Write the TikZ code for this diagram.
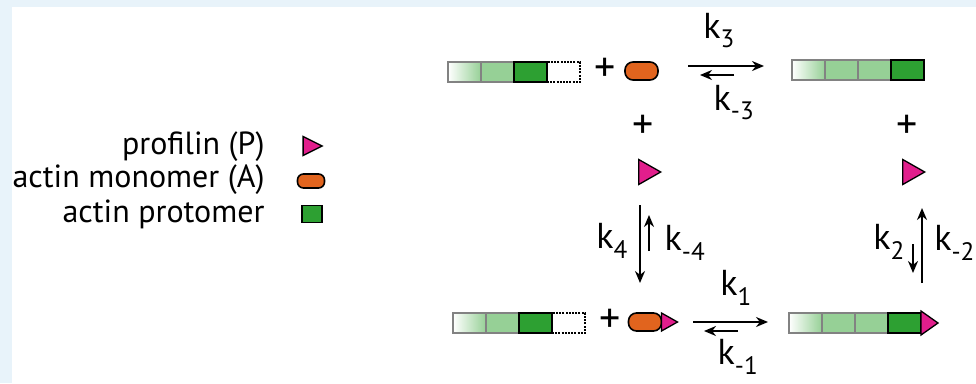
\documentclass[tikz,border=0pt]{standalone}
\usepackage{fontspec}
\setmainfont{PT Sans}
\usetikzlibrary{positioning, shapes.geometric, arrows.meta}

\definecolor{paleblue}{RGB}{232,243,250}
\definecolor{lightgreen}{RGB}{150,208,150}
\definecolor{darkgreen}{RGB}{45,160,50}
\definecolor{actinorange}{RGB}{225,100,30}
\definecolor{profpink}{RGB}{225,30,140}
\definecolor{bordergray}{RGB}{130,130,130}

\tikzset{
  unit/.style={rectangle, minimum width=33pt, minimum height=20pt, inner sep=0pt, outer sep=0pt, line width=1.6pt},
  endunit/.style={unit, draw=bordergray, left color=white, right color=lightgreen},
  oldunit/.style={unit, draw=bordergray, fill=lightgreen},
  newunit/.style={unit, draw=black, fill=darkgreen},
  gapunit/.style={unit, draw=black, dash pattern=on 2pt off 1.2pt, fill=white},
  monomer/.style={rectangle, rounded corners=8pt, minimum width=33pt, minimum height=18pt, inner sep=0pt, outer sep=0pt, draw=black, fill=actinorange, line width=1.6pt},
  profilin/.style={isosceles triangle, isosceles triangle stretches, minimum width=25pt, minimum height=22pt, inner sep=0pt, outer sep=0pt, draw=black, fill=profpink, line width=1.3pt},
  rate/.style={font=\fontsize{36}{40}\selectfont},
  plus/.style={font=\fontsize{42}{46}\selectfont},
  label/.style={font=\fontsize{32}{36}\selectfont, anchor=east},
  fwd/.style={-{Stealth[length=12pt,width=10pt]}, line width=1.9pt},
}

\begin{document}
\begin{tikzpicture}[x=1pt, y=-1pt]
\fill[paleblue] (0,0) rectangle (976,383);
\fill[white] (12,7) rectangle (976,383);
\useasboundingbox (0,0) rectangle (976,383);

% legend
\node (legP)[label] at (268,147) {profilin (P)};
\node (legA)[label] at (268,180) {actin monomer (A)};
\node (legF)[label] at (268,214) {actin protomer};
\node (iconP)[profilin, minimum width=19pt, minimum height=19pt] at (309,146) {};
\node (iconA)[monomer, minimum width=27pt, minimum height=14pt, rounded corners=6pt] at (311,181) {};
\node (iconF)[newunit, minimum width=20pt, minimum height=17pt] at (312,214) {};

% top left: filament + monomer
\node (tl1)[endunit] at (464.5,72) {};
\node (tl2)[oldunit, right=0pt of tl1] {};
\node (tl4)[gapunit, right=33pt of tl2] {};
\node (tl3)[newunit, right=0pt of tl2] {};
\node (plusA)[plus] at (605,70) {+};
\node (monA)[monomer] at (641.5,71) {};

% top right: filament
\node (tr1)[endunit] at (808.5,70) {};
\node (tr2)[oldunit, right=0pt of tr1] {};
\node (tr3)[oldunit, right=0pt of tr2] {};
\node (tr4)[newunit, right=0pt of tr3] {};

% profilin below
\node (plusL)[plus] at (643,127) {+};
\node (plusR)[plus] at (907,127) {+};
\node (profL)[profilin] at (646,172) {};
\node (profR)[profilin] at (910,172) {};

% bottom left: filament + profilin-actin
\node (bl1)[endunit] at (469.5,323) {};
\node (bl2)[oldunit, right=0pt of bl1] {};
\node (bl4)[gapunit, right=33pt of bl2] {};
\node (bl3)[newunit, right=0pt of bl2] {};
\node (plusB)[plus] at (610,321) {+};
\node (monB)[monomer] at (645,322) {};
\node (profB)[profilin, anchor=west, minimum width=18pt, minimum height=16pt] at (monB.east) {};

% bottom right: filament capped by profilin
\node (br1)[endunit] at (805.5,323) {};
\node (br2)[oldunit, right=0pt of br1] {};
\node (br3)[oldunit, right=0pt of br2] {};
\node (br4)[newunit, right=0pt of br3] {};
\node (brP)[profilin, anchor=west, minimum width=24pt, minimum height=17pt] at (br4.east) {};

% k3 / k-3
\coordinate (k3s) at (688,66);
\coordinate (k3e) at (764,66);
\coordinate (km3s) at (734,75);
\coordinate (km3e) at (700,75);
\draw[fwd] (k3s) -- (k3e);
\draw[fwd] (km3s) -- (km3e);
\node (k3)[rate] at (719,31) {k\textsubscript{3}};
\node (km3)[rate] at (734,103) {k\textsubscript{-3}};

% k4 / k-4
\coordinate (k4s) at (640,205);
\coordinate (k4e) at (640,283);
\coordinate (km4s) at (649,251);
\coordinate (km4e) at (649,215);
\draw[fwd] (k4s) -- (k4e);
\draw[fwd] (km4s) -- (km4e);
\node (k4)[rate] at (612,241) {k\textsubscript{4}};
\node (km4)[rate] at (685,243) {k\textsubscript{-4}};

% k2 / k-2
\coordinate (km2s) at (922,283);
\coordinate (km2e) at (922,208);
\coordinate (k2s) at (913,244);
\coordinate (k2e) at (913,273);
\draw[fwd] (km2s) -- (km2e);
\draw[fwd] (k2s) -- (k2e);
\node (k2)[rate] at (889,242) {k\textsubscript{2}};
\node (km2)[rate, anchor=east, inner xsep=1pt] at (976,243) {k\textsubscript{-2}};

% k1 / k-1
\coordinate (k1s) at (693,322);
\coordinate (k1e) at (768,322);
\coordinate (km1s) at (738,331);
\coordinate (km1e) at (704,331);
\draw[fwd] (k1s) -- (k1e);
\draw[fwd] (km1s) -- (km1e);
\node (k1)[rate] at (736,288) {k\textsubscript{1}};
\node (km1)[rate] at (738,357) {k\textsubscript{-1}};
\end{tikzpicture}
\end{document}
